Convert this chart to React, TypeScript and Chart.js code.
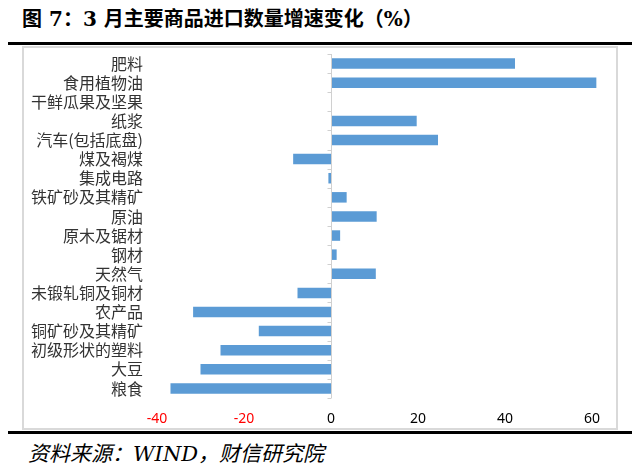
import React, { useEffect, useRef } from "react";
import { Chart, registerables } from "chart.js";

Chart.register(...registerables);

const categories = [
  "肥料",
  "食用植物油",
  "干鲜瓜果及坚果",
  "纸浆",
  "汽车(包括底盘)",
  "煤及褐煤",
  "集成电路",
  "铁矿砂及其精矿",
  "原油",
  "原木及锯材",
  "钢材",
  "天然气",
  "未锻轧铜及铜材",
  "农产品",
  "铜矿砂及其精矿",
  "初级形状的塑料",
  "大豆",
  "粮食",
];

const growthValues = [
  42.3, 61, 0, 19.7, 24.6, -8.7, -0.6, 3.6, 10.5, 2.1, 1.3, 10.3, -7.7, -31.7,
  -16.6, -25.4, -30, -36.9,
];

const xMin = -40;
const xMax = 60;
const xStep = 20;

const titleText = "图 7：3 月主要商品进口数量增速变化（%）";
const sourceText = "资料来源：WIND，财信研究院";

const zeroAxisPlugin = {
  id: "zeroAxis",
  afterDatasetsDraw(chart: any) {
    const { ctx, chartArea, scales } = chart;
    const x0 = Math.round(scales.x.getPixelForValue(0)) + 0.5;
    const yScale = scales.y;
    const n = chart.data.labels.length;
    ctx.save();
    ctx.strokeStyle = "#d0d0d0";
    ctx.lineWidth = 1;
    ctx.beginPath();
    ctx.moveTo(x0, chartArea.top);
    ctx.lineTo(x0, chartArea.bottom);
    ctx.stroke();
    ctx.beginPath();
    for (let i = 0; i <= n; i++) {
      const y = Math.round(yScale.getPixelForValue(i - 0.5)) + 0.5;
      ctx.moveTo(x0 - 4, y);
      ctx.lineTo(x0, y);
    }
    ctx.stroke();
    ctx.restore();
  },
};

export default function App() {
  const canvasRef = useRef<HTMLCanvasElement | null>(null);

  useEffect(() => {
    if (!canvasRef.current) return;
    const chart = new Chart(canvasRef.current, {
      type: "bar",
      data: {
        labels: categories,
        datasets: [
          {
            data: growthValues,
            backgroundColor: "#5b9bd5",
            borderWidth: 0,
            categoryPercentage: 0.55,
            barPercentage: 1,
            clip: false as any,
          },
        ],
      },
      options: {
        indexAxis: "y",
        animation: false,
        responsive: false,
        maintainAspectRatio: false,
        layout: { padding: { top: 6, right: 24, bottom: 0, left: 0 } },
        plugins: {
          legend: { display: false },
          tooltip: { enabled: false },
        },
        scales: {
          x: {
            min: xMin,
            max: xMax,
            ticks: {
              stepSize: xStep,
              padding: 13,
              font: { family: "'Noto Sans', sans-serif", size: 14 },
              color: (c: any) => (c.tick && c.tick.value < 0 ? "#ff0000" : "#000000"),
            },
            grid: { display: false, drawTicks: false },
            border: { display: false },
            afterFit: (s: any) => {
              s.height = 28;
              s.paddingLeft = 0;
              s.paddingRight = 0;
            },
          },
          y: {
            ticks: {
              padding: 14,
              autoSkip: false,
              font: { family: "'Noto Sans CJK SC', sans-serif", size: 16 },
              color: "#333333",
            },
            grid: { display: false, drawTicks: false },
            border: { display: false },
            afterFit: (s: any) => {
              s.width = 133;
              s.paddingTop = 0;
              s.paddingBottom = 0;
            },
          },
        },
      },
      plugins: [zeroAxisPlugin],
    });
    return () => chart.destroy();
  }, []);

  return (
    <div
      style={{
        position: "absolute",
        left: 0,
        top: 0,
        width: 640,
        height: 474,
        background: "#ffffff",
        overflow: "hidden",
      }}
    >
      <div
        style={{
          position: "absolute",
          left: 22,
          top: 5,
          fontFamily: "'DejaVu Serif', 'Noto Sans CJK SC', serif",
          fontWeight: "bold",
          fontSize: 20,
          lineHeight: "28px",
          color: "#000",
          whiteSpace: "nowrap",
        }}
      >
        {titleText}
      </div>
      <div
        style={{
          position: "absolute",
          left: 8,
          top: 42,
          width: 624,
          height: 3,
          background: "#000",
        }}
      />
      <div
        style={{
          position: "absolute",
          left: 22,
          top: 46,
          width: 592,
          height: 380,
          border: "2px solid #d9d9d9",
        }}
      />
      <canvas
        ref={canvasRef}
        width={592}
        height={378}
        style={{ position: "absolute", left: 24, top: 48, width: 592, height: 378 }}
      />
      <div
        style={{
          position: "absolute",
          left: 8,
          top: 431,
          width: 624,
          height: 3,
          background: "#000",
        }}
      />
      <div
        style={{
          position: "absolute",
          left: 28,
          top: 439,
          fontFamily: "'DejaVu Serif', 'Noto Sans CJK SC', serif",
          fontStyle: "italic",
          fontSize: 21,
          lineHeight: "30px",
          color: "#000",
          whiteSpace: "nowrap",
        }}
      >
        {sourceText}
      </div>
    </div>
  );
}
